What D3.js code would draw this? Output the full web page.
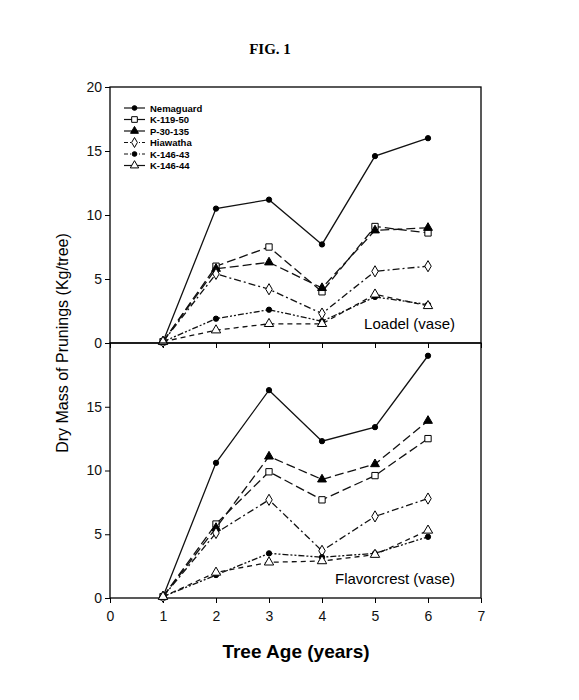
<!DOCTYPE html>
<html><head><meta charset="utf-8">
<script src="https://cdn.jsdelivr.net/npm/d3@7"></script>
<style>body{margin:0;background:#fff}</style>
</head><body>
<script>
var ages = [1, 2, 3, 4, 5, 6];
var names = ["Nemaguard", "K-119-50", "P-30-135", "Hiawatha", "K-146-43", "K-146-44"];
var loadel = [
  [0.1, 10.5, 11.2, 7.7, 14.6, 16.0],
  [0.1, 6.0, 7.5, 4.0, 9.1, 8.6],
  [0.1, 5.8, 6.3, 4.3, 8.8, 9.0],
  [0.1, 5.4, 4.2, 2.3, 5.6, 6.0],
  [0.1, 1.9, 2.6, 1.7, 3.6, 3.0],
  [0.1, 1.0, 1.5, 1.5, 3.8, 2.9]
];
var flavorcrest = [
  [0.1, 10.6, 16.3, 12.3, 13.4, 19.0],
  [0.1, 5.8, 9.9, 7.7, 9.6, 12.5],
  [0.1, 5.5, 11.1, 9.3, 10.5, 13.9],
  [0.1, 5.1, 7.7, 3.7, 6.4, 7.8],
  [0.1, 1.8, 3.5, 3.2, 3.5, 4.8],
  [0.1, 2.0, 2.8, 2.9, 3.4, 5.3]
];
var xTicks = [0, 1, 2, 3, 4, 5, 6, 7];

var dashes = [null, "9,4", "9,4", "7,3,2,3", "6,2,2,2,2,2", "5,4"];
var markers = [
  {shape: d3.symbolCircle, fill: "#000", size: 22},
  {shape: d3.symbolSquare, fill: "#fff", size: 40},
  {shape: d3.symbolTriangle, fill: "#000", size: 34},
  {shape: d3.symbolDiamond, fill: "#fff", size: 36},
  {shape: d3.symbolCircle, fill: "#000", size: 22},
  {shape: d3.symbolTriangle, fill: "#fff", size: 38}
];

var svg = d3.select("body").append("svg").attr("width", 579).attr("height", 700)
  .style("font-family", "Arial, 'Liberation Sans', sans-serif");

svg.append("text").attr("x", 270).attr("y", 54).attr("text-anchor", "middle")
  .style("font-family", "'Liberation Serif', serif").style("font-weight", "bold")
  .style("font-size", "15px").text("FIG. 1");

var left = 110, right = 481;
var x = d3.scaleLinear().domain([0, 7]).range([left, right]);

function panel(data, top, bottom, yTicks, label, showX) {
  var y = d3.scaleLinear().domain([0, 20]).range([bottom, top]);
  var g = svg.append("g");
  g.append("g").attr("transform", "translate(" + left + ",0)")
    .call(d3.axisLeft(y).tickValues(yTicks).tickSize(5).tickFormat(d3.format("d")))
    .call(function(a) { a.selectAll("text").style("font-size", "14px").attr("fill", "#111"); a.select(".domain").remove(); });
  var xa = g.append("g").attr("transform", "translate(0," + bottom + ")")
    .call(d3.axisBottom(x).tickValues(xTicks).tickSize(5).tickFormat(showX ? d3.format("d") : ""));
  xa.select(".domain").remove();
  xa.selectAll("text").style("font-size", "14px").attr("dy", "1.1em").attr("fill", "#111");
  g.append("rect").attr("x", left).attr("y", top).attr("width", right - left).attr("height", bottom - top)
    .attr("fill", "none").attr("stroke", "#000").attr("stroke-width", 1.3);

  var line = d3.line().x(function(d, i) { return x(ages[i]); }).y(function(d) { return y(d); });
  data.forEach(function(s, k) {
    g.append("path").datum(s).attr("d", line).attr("fill", "none").attr("stroke", "#111")
      .attr("stroke-width", 1.3).attr("stroke-dasharray", dashes[k]);
    g.selectAll(null).data(s).enter().append("path")
      .attr("transform", function(d, i) { return "translate(" + x(ages[i]) + "," + y(d) + ")"; })
      .attr("d", d3.symbol().type(markers[k].shape).size(markers[k].size))
      .attr("fill", markers[k].fill).attr("stroke", "#000").attr("stroke-width", 1);
  });
  g.append("text").attr("x", 455).attr("y", bottom - 14).attr("text-anchor", "end")
    .style("font-size", "15px").text(label);
  return y;
}

panel(loadel, 87, 343, [0, 5, 10, 15, 20], "Loadel (vase)", false);
panel(flavorcrest, 343, 598, [0, 5, 10, 15], "Flavorcrest (vase)", true);

// legend
var lg = svg.append("g").attr("transform", "translate(124,108)");
names.forEach(function(n, k) {
  var r = lg.append("g").attr("transform", "translate(0," + k * 11.5 + ")");
  r.append("line").attr("x1", 0).attr("x2", 21).attr("stroke", "#111").attr("stroke-width", 1.2)
    .attr("stroke-dasharray", k === 0 ? null : (k === 3 || k === 4 ? "4,2,1,2" : null));
  r.append("path").attr("transform", "translate(10.5,0)")
    .attr("d", d3.symbol().type(markers[k].shape).size(markers[k].size * 0.8))
    .attr("fill", markers[k].fill).attr("stroke", "#000");
  r.append("text").attr("x", 26).attr("y", 3.5).style("font-size", "9.5px").style("font-weight", "bold").text(n);
});

svg.append("text").attr("transform", "translate(68,343) rotate(-90)").attr("text-anchor", "middle")
  .style("font-size", "16px").text("Dry Mass of Prunings (Kg/tree)");
svg.append("text").attr("x", 296).attr("y", 658).attr("text-anchor", "middle")
  .style("font-size", "19px").style("font-weight", "bold").text("Tree Age (years)");
</script>
</body></html>
